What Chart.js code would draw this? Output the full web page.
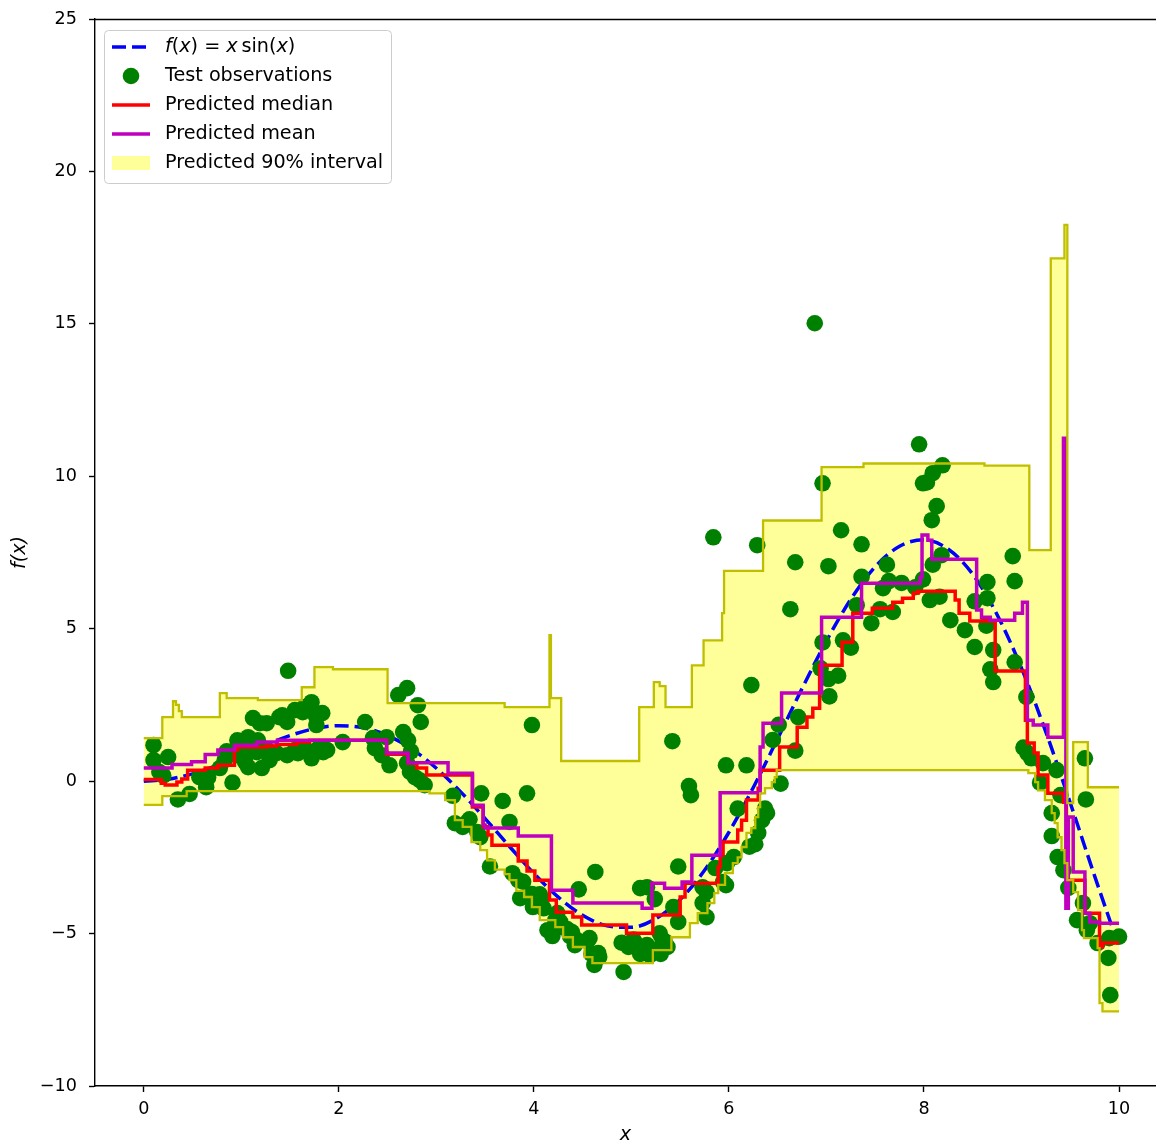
<!DOCTYPE html>
<html><head><meta charset="utf-8">
<script src="https://cdn.jsdelivr.net/npm/chart.js@4.4.1/dist/chart.umd.min.js"></script>
<style>html,body{margin:0;padding:0;background:#fff;overflow:hidden;}#wrap{width:1156px;height:1142px;position:relative;}canvas{display:block;}</style>
</head><body><div id="wrap"><canvas id="c" width="1156" height="1142"></canvas></div>
<script>
// ---- data ----
const xTicks = [0, 2, 4, 6, 8, 10];
const yTicks = [-10, -5, 0, 5, 10, 15, 20, 25];
const legendLabels = ['f(x) = x sin(x)', 'Test observations', 'Predicted median', 'Predicted mean', 'Predicted 90% interval'];

// f(x) = x sin(x), sampled values
const curvePts = [[0,0],[0.25,0.062],[0.5,0.240],[0.75,0.511],[1,0.841],[1.25,1.186],[1.5,1.496],[1.75,1.722],[2,1.819],[2.25,1.751],[2.5,1.496],[2.75,1.050],[3,0.423],[3.25,-0.352],[3.5,-1.228],[3.75,-2.144],[4,-3.027],[4.25,-3.804],[4.5,-4.399],[4.75,-4.747],[5,-4.795],[5.25,-4.509],[5.5,-3.880],[5.75,-2.923],[6,-1.676],[6.25,-0.207],[6.5,1.398],[6.75,3.038],[7,4.599],[7.25,5.968],[7.5,7.035],[7.75,7.708],[8,7.915],[8.25,7.607],[8.5,6.787],[8.75,5.459],[9,3.709],[9.25,1.608],[9.5,-0.715],[9.75,-3.115],[10,-5.440]];

// test observations
const obsPts = [[0.10,1.18],[0.10,0.69],[0.16,0.30],[0.20,0.18],[0.25,0.79],[0.35,-0.60],[0.47,-0.42],[0.57,0.13],[0.64,-0.20],[0.66,0.12],[0.78,0.43],[0.83,0.69],[0.85,0.98],[0.91,-0.05],[0.95,0.85],[0.96,1.34],[1.04,0.85],[1.04,0.62],[1.07,0.46],[1.07,1.44],[1.12,2.07],[1.16,0.95],[1.17,1.34],[1.21,0.43],[1.19,1.90],[1.26,1.90],[1.27,1.02],[1.29,0.69],[1.36,0.92],[1.39,2.10],[1.42,2.16],[1.48,3.62],[1.47,1.94],[1.47,0.85],[1.55,2.33],[1.55,1.02],[1.58,0.92],[1.63,2.26],[1.65,2.43],[1.65,1.08],[1.72,2.59],[1.74,2.26],[1.72,0.75],[1.77,2.10],[1.77,1.84],[1.80,1.12],[1.83,2.23],[1.84,0.95],[1.88,1.02],[2.04,1.28],[2.27,1.94],[2.35,1.41],[2.37,1.08],[2.44,0.85],[2.49,1.44],[2.52,0.52],[2.61,2.82],[2.70,3.05],[2.81,2.49],[2.84,1.94],[2.66,1.61],[2.71,1.34],[2.74,0.98],[2.70,0.59],[2.73,0.30],[2.78,0.13],[2.83,0.03],[2.88,-0.13],
[3.17,-0.48],[3.19,-1.38],[3.27,-1.50],[3.32,-1.34],[3.34,-1.25],[3.42,-1.67],[3.45,-1.84],[3.46,-0.40],[3.55,-2.80],[3.68,-0.65],[3.75,-1.34],[3.93,-0.40],[3.78,-3.02],[3.84,-3.25],[3.86,-3.84],[3.89,-3.30],[3.98,-3.70],[3.99,-4.13],[3.98,1.84],[4.06,-3.71],[4.08,-3.85],[4.10,-4.17],[4.14,-4.89],[4.19,-5.08],[4.22,-4.56],[4.24,-4.33],[4.27,-4.62],[4.29,-4.79],[4.34,-4.85],[4.37,-5.08],[4.39,-4.95],[4.42,-5.38],[4.44,-5.21],[4.55,-5.25],[4.57,-5.15],[4.59,-5.67],[4.62,-6.03],[4.66,-5.64],[4.67,-5.77],[4.92,-6.26],[4.90,-5.30],[4.97,-5.44],[5.02,-5.20],[5.04,-5.31],[5.09,-5.67],[5.16,-5.38],[5.19,-5.71],[5.21,-5.54],[5.29,-4.99],[5.30,-5.67],[5.32,-5.21],[5.34,-5.25],[5.37,-5.44],[5.24,-3.87],[4.63,-2.98],[4.46,-3.55],[5.09,-3.51],[5.16,-3.48],[5.43,-4.13],[5.48,-4.62],[5.48,-2.80],[5.42,1.31],[5.59,-0.16],[5.61,-0.46],[5.73,-4.00],[5.77,-3.64],[5.77,-4.46],[5.73,-3.48],[5.86,-2.85],[5.94,-3.31],[5.97,-3.41],[5.98,-2.69],[6.05,-2.49],
[5.84,8.00],[6.29,7.74],[6.88,15.02],[6.96,9.77],[7.95,11.05],[7.99,9.77],[8.03,9.80],[8.09,10.10],[8.19,10.36],[8.13,9.02],[8.08,8.56],[7.15,8.23],[7.36,7.77],[6.68,7.18],[7.02,7.05],[6.63,5.64],[8.91,7.38],[8.93,6.56],[8.65,6.53],[8.65,6.00],[8.52,5.90],[8.71,4.30],[8.68,3.67],[8.71,3.25],[8.93,3.90],[9.05,2.76],[9.02,1.10],[9.06,0.92],[9.10,0.75],[9.22,0.59],[9.36,0.36],[9.19,-0.05],[9.40,-0.46],[9.31,-1.05],[9.31,-1.80],[9.37,-2.49],[9.43,-2.92],[9.48,-3.50],[9.65,0.75],[9.66,-0.60],[9.57,-4.56],[9.63,-4.00],[9.67,-4.89],[9.70,-4.66],[9.78,-5.31],[9.89,-5.80],[9.91,-7.02],[10.00,-5.10],[9.90,-5.15],
[7.62,7.10],[7.36,6.70],[7.64,6.56],[7.77,6.50],[7.99,6.62],[7.91,6.36],[7.58,6.33],[8.09,7.10],[8.18,7.41],[8.06,5.94],[8.16,6.05],[7.31,5.77],[7.55,5.64],[7.68,5.55],[7.46,5.18],[8.27,5.28],[8.42,4.95],[8.52,4.40],[8.64,5.10],[6.96,4.55],[7.17,4.62],[7.25,4.38],[6.94,3.70],[7.02,3.35],[7.12,3.46],[7.03,2.78],[6.71,2.10],[6.68,1.00],[6.23,3.15],[6.51,1.85],[6.45,1.35],[6.53,-0.08],[6.37,-0.90],[6.39,-1.05],[6.34,-1.28],[6.30,-1.70],[6.27,-2.07],[6.21,-2.15],[6.09,-0.90],[5.97,0.52],[6.18,0.52]];

// step functions: [x where level starts, level]
const upperSteps = [[0,1.41],[0.19,2.10],[0.30,2.62],[0.33,2.50],[0.36,2.30],[0.39,2.10],[0.78,2.89],[0.85,2.72],[1.17,2.66],[1.62,3.08],[1.75,3.74],[1.94,3.67],[2.50,2.56],[3.70,2.43],[4.16,4.79],[4.175,2.72],[4.28,0.66],[5.08,2.43],[5.23,3.25],[5.29,3.12],[5.35,2.43],[5.62,3.80],[5.74,4.62],[5.93,5.51],[5.95,6.90],[6.35,8.55],[6.95,10.30],[7.38,10.42],[8.62,10.35],[9.08,7.58],[9.30,17.15],[9.44,18.25],[9.47,-0.72],[9.53,1.28],[9.68,-0.20],[10.0,-0.20]];
const lowerSteps = [[0,-0.78],[0.19,-0.49],[0.44,-0.33],[2.93,-0.40],[3.09,-0.62],[3.19,-1.28],[3.27,-1.50],[3.36,-2.00],[3.45,-2.26],[3.52,-2.60],[3.60,-2.90],[3.70,-3.05],[3.75,-3.25],[3.82,-3.60],[3.90,-3.80],[3.98,-4.13],[4.06,-4.56],[4.22,-4.79],[4.30,-5.12],[4.40,-5.44],[4.52,-5.77],[4.60,-5.97],[5.22,-5.54],[5.41,-5.12],[5.60,-4.66],[5.68,-4.33],[5.78,-4.00],[5.85,-3.67],[5.89,-3.40],[5.96,-3.02],[6.04,-2.69],[6.09,-2.50],[6.13,-2.16],[6.18,-1.70],[6.23,-1.54],[6.27,-1.18],[6.30,-0.85],[6.32,-0.40],[6.37,-0.23],[6.44,-0.03],[6.47,0.13],[6.49,0.36],[9.07,0.26],[9.14,-0.03],[9.17,-0.30],[9.24,-0.62],[9.31,-1.05],[9.34,-1.38],[9.37,-1.84],[9.41,-2.26],[9.44,-2.69],[9.47,-3.25],[9.53,-3.64],[9.58,-4.23],[9.62,-4.89],[9.64,-5.15],[9.78,-5.48],[9.80,-7.28],[9.83,-7.55],[10.0,-7.55]];
const medianSteps = [[0,0.05],[0.18,-0.07],[0.22,-0.13],[0.34,-0.03],[0.39,0.07],[0.45,0.36],[0.63,0.43],[0.76,0.52],[0.93,1.02],[0.96,1.12],[1.26,1.15],[1.36,1.20],[1.57,1.28],[1.70,1.34],[2.49,0.88],[2.71,0.59],[2.80,0.43],[2.90,0.20],[3.37,-0.85],[3.48,-1.50],[3.53,-1.77],[3.57,-2.10],[3.84,-2.62],[3.93,-2.95],[4.01,-3.25],[4.16,-3.90],[4.23,-4.30],[4.40,-4.46],[4.49,-4.72],[4.95,-4.99],[5.22,-4.39],[5.50,-3.80],[5.55,-3.35],[5.89,-2.82],[5.91,-2.43],[5.94,-2.00],[6.09,-1.60],[6.13,-1.28],[6.18,-0.62],[6.30,-0.23],[6.32,0.36],[6.52,1.12],[6.70,1.77],[6.80,2.10],[6.86,2.39],[6.93,3.80],[7.16,4.56],[7.27,5.51],[7.47,5.67],[7.68,5.87],[7.78,6.00],[7.89,6.17],[7.94,6.23],[8.32,5.94],[8.36,5.51],[8.47,5.25],[8.73,3.61],[9.04,2.00],[9.06,1.25],[9.13,0.92],[9.17,0.20],[9.27,-0.40],[9.43,-0.69],[9.46,-3.25],[9.65,-4.33],[9.80,-5.44],[9.83,-5.31],[10.0,-5.31]];
const meanSteps = [[0,0.43],[0.29,0.55],[0.49,0.64],[0.63,0.87],[0.76,1.02],[0.93,1.18],[1.16,1.28],[1.37,1.34],[2.49,0.92],[2.71,0.60],[3.12,0.26],[3.37,-0.79],[3.48,-1.44],[3.50,-1.54],[3.84,-1.80],[4.18,-3.58],[4.40,-4.00],[5.11,-4.17],[5.21,-3.35],[5.34,-3.51],[5.52,-3.31],[5.62,-2.43],[5.91,-0.38],[6.32,1.12],[6.35,1.90],[6.54,2.89],[6.95,5.38],[7.36,6.49],[7.96,6.69],[7.98,8.07],[8.04,7.90],[8.08,7.28],[8.54,5.61],[8.59,5.38],[8.68,5.28],[8.93,5.51],[9.01,5.87],[9.06,2.00],[9.12,1.84],[9.27,1.44],[9.43,11.25],[9.455,-4.17],[9.48,-1.18],[9.53,-2.98],[9.65,-4.33],[9.70,-4.62],[9.80,-4.66],[10.0,-4.66]];

// ---- chart ----
const FONT = 'DejaVu Sans';
const FS = 19.2;   // legend / axis-label font
const TFS = 17.6;  // tick font
const LW = 3.5;    // main line width
const DASH = [14, 6];
const toPts = a => a.map(p => ({x: p[0], y: p[1]}));
Chart.defaults.font.family = FONT;
Chart.defaults.font.size = TFS;
Chart.defaults.color = '#000';

const spinePlugin = {
  id: 'spines',
  afterDraw(chart) {
    const {ctx, chartArea: a} = chart;
    ctx.save();
    ctx.strokeStyle = '#000'; ctx.lineWidth = 1.4;
    ctx.beginPath(); ctx.moveTo(a.left, a.top + 0.5); ctx.lineTo(a.right, a.top + 0.5); ctx.stroke();
    ctx.restore();
  }
};

const legendPlugin = {
  id: 'mplLegend',
  afterDraw(chart) {
    const {ctx} = chart;
    const bx = 104.5, by = 30.5, bw = 287, bh = 153, r = 4;
    ctx.save();
    ctx.beginPath();
    ctx.moveTo(bx + r, by); ctx.lineTo(bx + bw - r, by); ctx.arcTo(bx + bw, by, bx + bw, by + r, r);
    ctx.lineTo(bx + bw, by + bh - r); ctx.arcTo(bx + bw, by + bh, bx + bw - r, by + bh, r);
    ctx.lineTo(bx + r, by + bh); ctx.arcTo(bx, by + bh, bx, by + bh - r, r);
    ctx.lineTo(bx, by + r); ctx.arcTo(bx, by, bx + r, by, r); ctx.closePath();
    ctx.fillStyle = 'rgba(255,255,255,0.8)'; ctx.fill();
    ctx.strokeStyle = '#cccccc'; ctx.lineWidth = 1; ctx.stroke();

    const rows = [47, 76, 105, 134, 163];
    const mx0 = 112, mx1 = 150, tx = 165;
    ctx.lineCap = 'butt';
    ctx.setLineDash(DASH); ctx.strokeStyle = '#0000ff'; ctx.lineWidth = LW;
    ctx.beginPath(); ctx.moveTo(mx0, rows[0]); ctx.lineTo(mx1, rows[0]); ctx.stroke();
    ctx.setLineDash([]);
    ctx.fillStyle = '#008000'; ctx.beginPath(); ctx.arc((mx0 + mx1) / 2, rows[1], 8.3, 0, Math.PI * 2); ctx.fill();
    ctx.strokeStyle = '#ff0000'; ctx.beginPath(); ctx.moveTo(mx0, rows[2]); ctx.lineTo(mx1, rows[2]); ctx.stroke();
    ctx.strokeStyle = '#bf00bf'; ctx.beginPath(); ctx.moveTo(mx0, rows[3]); ctx.lineTo(mx1, rows[3]); ctx.stroke();
    ctx.fillStyle = 'rgba(255,255,0,0.4)'; ctx.fillRect(mx0, rows[4] - 7, mx1 - mx0, 14);

    ctx.fillStyle = '#000'; ctx.textBaseline = 'middle'; ctx.textAlign = 'left';
    const it = 'italic ' + FS + 'px "' + FONT + '"', rm = FS + 'px "' + FONT + '"';
    const parts = [['f', it], ['(', rm], ['x', it], [')', rm], [' = ', rm], ['x', it], ['\u2009sin(', rm], ['x', it], [')', rm]];
    let x = tx;
    for (const [s, f] of parts) { ctx.font = f; ctx.fillText(s, x, rows[0]); x += ctx.measureText(s).width; }
    ctx.font = rm;
    for (let i = 1; i < legendLabels.length; i++) ctx.fillText(legendLabels[i], tx, rows[i]);
    ctx.restore();
  }
};

const lineBase = {pointRadius: 0, pointHoverRadius: 0, fill: false, stepped: true, borderJoinStyle: 'miter'};

new Chart(document.getElementById('c'), {
  type: 'line',
  data: {
    datasets: [
      Object.assign({}, lineBase, {label: 'upper', data: toPts(upperSteps), borderColor: '#bfbf00', borderWidth: 2.3, fill: '+1', backgroundColor: 'rgba(255,255,0,0.4)'}),
      Object.assign({}, lineBase, {label: 'lower', data: toPts(lowerSteps), borderColor: '#bfbf00', borderWidth: 2.3}),
      Object.assign({}, lineBase, {label: legendLabels[3], data: toPts(meanSteps), borderColor: '#bf00bf', borderWidth: LW}),
      Object.assign({}, lineBase, {label: legendLabels[2], data: toPts(medianSteps), borderColor: '#ff0000', borderWidth: LW}),
      {label: legendLabels[1], data: toPts(obsPts), showLine: false, pointRadius: 8.3, pointHoverRadius: 8.3, pointBorderWidth: 0, pointBackgroundColor: '#008000', pointBorderColor: '#008000', backgroundColor: '#008000'},
      {label: legendLabels[0], data: toPts(curvePts), borderColor: '#0000ff', borderWidth: LW, borderDash: DASH, pointRadius: 0, cubicInterpolationMode: 'monotone', fill: false}
    ]
  },
  options: {
    responsive: false, animation: false, devicePixelRatio: 1, events: [],
    layout: {autoPadding: false, padding: {top: 19, right: 0, left: 0, bottom: 0}},
    plugins: {legend: {display: false}, tooltip: {enabled: false}, filler: {drawTime: 'beforeDatasetsDraw'}},
    scales: {
      x: {
        type: 'linear', min: -0.5, max: 10.379,
        afterBuildTicks: s => { s.ticks = xTicks.map(v => ({value: v})); },
        afterFit: s => { s.height = 56; s.paddingLeft = 0; s.paddingRight = 0; },
        ticks: {autoSkip: false, maxRotation: 0, padding: 7, color: '#000', font: {size: TFS}},
        grid: {display: true, drawOnChartArea: false, drawTicks: true, tickLength: 6, tickColor: '#000', tickWidth: 1.4},
        border: {display: true, color: '#000', width: 1.4},
        title: {display: true, text: 'x', color: '#000', font: {size: FS, style: 'italic'}, padding: {top: 0, bottom: -5}}
      },
      y: {
        type: 'linear', min: -10, max: 25,
        afterBuildTicks: s => { s.ticks = yTicks.map(v => ({value: v})); },
        afterFit: s => { s.width = 95; s.paddingTop = 0; s.paddingBottom = 0; },
        ticks: {autoSkip: false, padding: 12, color: '#000', font: {size: TFS}, callback: v => String(v).replace('-', '\u2212')},
        grid: {display: true, drawOnChartArea: false, drawTicks: true, tickLength: 6, tickColor: '#000', tickWidth: 1.4},
        border: {display: true, color: '#000', width: 1.4},
        title: {display: true, text: 'f(x)', color: '#000', font: {size: FS, style: 'italic'}, padding: {top: 8, bottom: 0}}
      }
    }
  },
  plugins: [spinePlugin, legendPlugin]
});
</script>
</body></html>
